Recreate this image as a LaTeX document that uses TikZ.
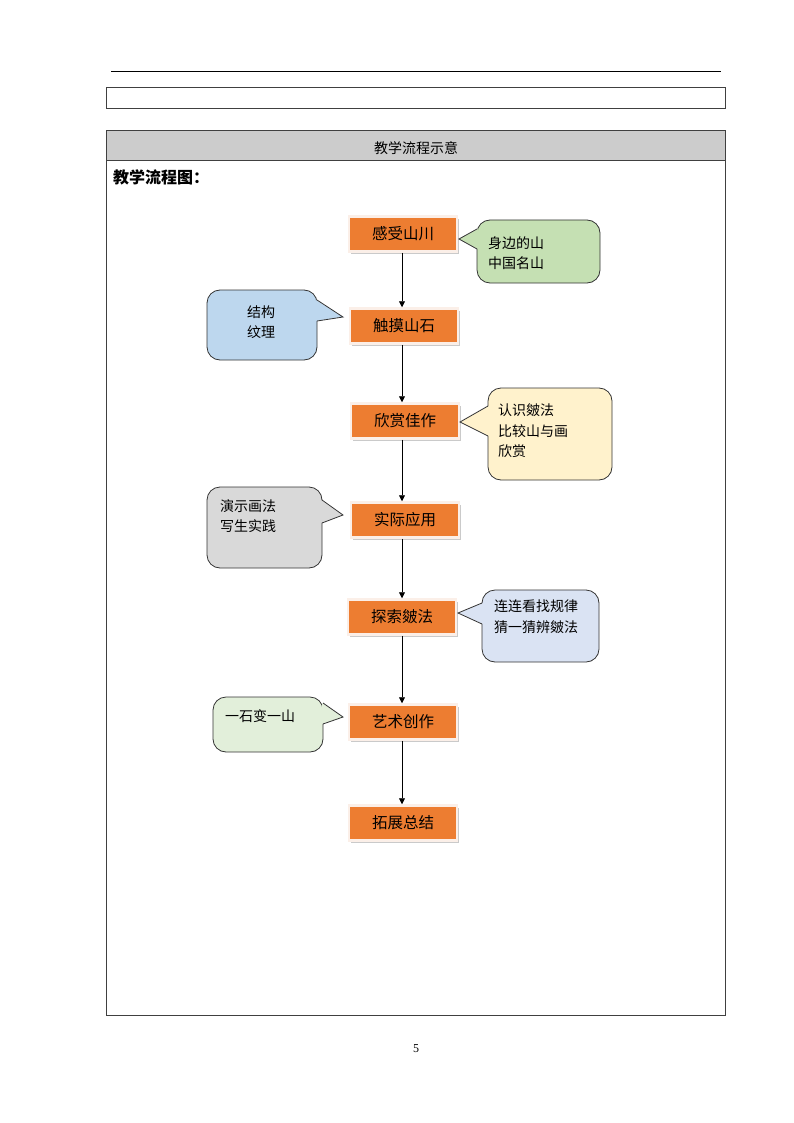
\documentclass[tikz,border=0pt]{standalone}
\usepackage{fontspec}
\setmainfont{Liberation Serif}
\newfontfamily\cjk{Noto Sans CJK SC}
\usetikzlibrary{arrows.meta,shadows}
\definecolor{stepfill}{HTML}{ED7D31}
\definecolor{stepedge}{HTML}{FBEFE8}
\definecolor{tipgreen}{HTML}{C5E0B3}
\definecolor{tipblue}{HTML}{BDD7EE}
\definecolor{tipyellow}{HTML}{FFF2CC}
\definecolor{tipgray}{HTML}{D9D9D9}
\definecolor{tipsky}{HTML}{DAE3F3}
\definecolor{tipmint}{HTML}{E2EFDA}
\begin{document}
\begin{tikzpicture}[x=1pt,y=-1pt,
    frame/.style={draw=black!75, line width=0.8pt},
    stepbox/.style={draw=stepedge, line width=2.5pt, fill=stepfill,
        minimum width=108pt, minimum height=35pt, inner sep=0pt,
        font=\cjk\fontsize{15.5}{18}\selectfont,
        drop shadow={shadow xshift=1.5pt, shadow yshift=-2.5pt, fill=black!35, opacity=.6}},
    tipbox/.style={draw=black!80, line width=0.8pt, rounded corners=13pt, inner sep=0pt},
    tipline/.style={draw=black!80, line width=0.8pt, line join=miter},
    tiptext/.style={inner sep=0pt, align=left, font=\cjk\fontsize{14}{20.5}\selectfont},
    flow/.style={-{Triangle[length=6pt,width=6pt]}, line width=0.8pt}]
    \useasboundingbox (0,0) rectangle (794,1123);
    % Page rule and the empty row above the table.
        \draw[black, line width=1pt] (111,72) -- (721,72);
        \draw[frame] (106,87) rectangle (725,108);
    % The table with its grey header row.
        \fill[black!20] (106,130) rectangle (725,160);
        \draw[frame] (106,130) rectangle (725,1015);
        \draw[frame] (106,160) -- (725,160);
        \node[font=\cjk\fontsize{14}{16}\selectfont] (head) at (416,148) {教学流程示意};
        \node[anchor=west, inner sep=0pt, font=\cjk\bfseries\fontsize{16}{18}\selectfont] (title) at (113,177) {教学流程图：};
    % The steps of the flow.
        \node[stepbox] (s1) at (403,234) {感受山川};
        \node[stepbox] (s2) at (404,326) {触摸山石};
        \node[stepbox] (s3) at (405,421) {欣赏佳作};
        \node[stepbox] (s4) at (405,520) {实际应用};
        \node[stepbox] (s5) at (402,617) {探索皴法};
        \node[stepbox] (s6) at (403,722) {艺术创作};
        \node[stepbox] (s7) at (403,823) {拓展总结};
        \draw[flow] (s1.south -| 402,0) -- (s2.north -| 402,0);
        \draw[flow] (s2.south -| 402,0) -- (s3.north -| 402,0);
        \draw[flow] (s3.south -| 402,0) -- (s4.north -| 402,0);
        \draw[flow] (s4.south -| 402,0) -- (s5.north -| 402,0);
        \draw[flow] (s5.south -| 402,0) -- (s6.north -| 402,0);
        \draw[flow] (s6.south -| 402,0) -- (s7.north -| 402,0);
    % Callouts beside the steps: bubble first, then its pointer.
        \node[tipbox, fill=tipgreen, minimum width=123pt, minimum height=63pt] (c1) at (538.5,251.5) {};
        \fill[tipgreen] (478,229) -- (459,239) -- (478,249) -- cycle;
        \draw[tipline] (477,229) -- (459,239) -- (477,249);
        \node[tiptext, anchor=west] (t1) at (488,253) {身边的山\\中国名山};
        \node[tipbox, fill=tipblue, minimum width=110pt, minimum height=70pt] (c2) at (262,325) {};
        \fill[tipblue] (316,300) -- (343,317) -- (316,321) -- cycle;
        \draw[tipline] (317,300) -- (343,317) -- (317,321);
        \node[tiptext, align=center] (t2) at (261,322) {结构\\纹理};
        \node[tipbox, fill=tipyellow, minimum width=124pt, minimum height=92pt] (c3) at (550,434) {};
        \fill[tipyellow] (489,406) -- (460,422) -- (489,436) -- cycle;
        \draw[tipline] (488,406) -- (460,422) -- (488,436);
        \node[tiptext, anchor=west] (t3) at (498,431) {认识皴法\\比较山与画\\欣赏};
        \node[tipbox, fill=tipgray, minimum width=115pt, minimum height=81pt] (c4) at (264.5,527.5) {};
        \fill[tipgray] (321,500) -- (343,515) -- (321,523) -- cycle;
        \draw[tipline] (322,500) -- (343,515) -- (322,523);
        \node[tiptext, anchor=west] (t4) at (220,516) {演示画法\\写生实践};
        \node[tipbox, fill=tipsky, minimum width=117pt, minimum height=72pt] (c5) at (540.5,626) {};
        \fill[tipsky] (483,603) -- (458,613) -- (483,624) -- cycle;
        \draw[tipline] (482,603) -- (458,613) -- (482,624);
        \node[tiptext, anchor=west] (t5) at (494,616.5) {连连看找规律\\猜一猜辨皴法};
        \node[tipbox, fill=tipmint, minimum width=110pt, minimum height=55pt] (c6) at (268,724.5) {};
        \fill[tipmint] (322,703) -- (343,717) -- (322,724) -- cycle;
        \draw[tipline] (323,703) -- (343,717) -- (323,724);
        \node[tiptext, anchor=west] (t6) at (225,716) {一石变一山};
    % Page number.
        \node[font=\fontsize{12}{14}\selectfont] (page) at (416,1049) {5};
\end{tikzpicture}
\end{document}
